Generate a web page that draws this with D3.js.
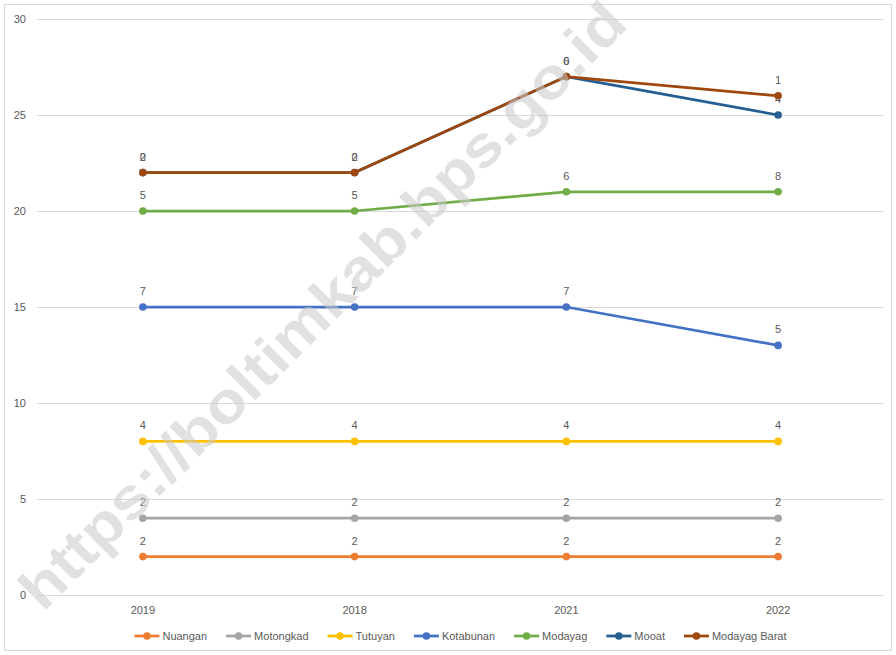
<!DOCTYPE html>
<html>
<head>
<meta charset="utf-8">
<script src="https://cdn.jsdelivr.net/npm/d3@7"></script>
<style>
  body { margin: 0; background: #fff; }
  svg { display: block; }
</style>
</head>
<body>
<script>
"use strict";

// categories and series (stacked line chart)
const years = ["2019", "2018", "2021", "2022"];
const seriesNames = ["Nuangan", "Motongkad", "Tutuyan", "Kotabunan", "Modayag", "Mooat", "Modayag Barat"];
const nuangan = [2, 2, 2, 2];
const motongkad = [2, 2, 2, 2];
const tutuyan = [4, 4, 4, 4];
const kotabunan = [7, 7, 7, 5];
const modayag = [5, 5, 6, 8];
const mooat = [2, 2, 6, 4];
const modayagBarat = [0, 0, 0, 1];
const yTicks = [0, 5, 10, 15, 20, 25, 30];
const colors = ["#ED7D31", "#A5A5A5", "#FFC000", "#4472C4", "#70AD47", "#255E91", "#9E480E"];

const width = 896, height = 655;
const margin = { top: 19, right: 12, bottom: 60, left: 37 };
const font = "'Liberation Sans Narrow', 'Liberation Sans', Arial, sans-serif";

const allValues = [nuangan, motongkad, tutuyan, kotabunan, modayag, mooat, modayagBarat];

// build rows for stacking
const rows = years.map((y, i) => {
  const r = { year: y };
  seriesNames.forEach((s, k) => (r[s] = allValues[k][i]));
  return r;
});
const stacked = d3.stack().keys(seriesNames)(rows);

const svg = d3.select("body").append("svg").attr("width", width).attr("height", height);

// outer border
svg.append("rect")
  .attr("x", 4.5).attr("y", 4.5)
  .attr("width", width - 9).attr("height", height - 9)
  .attr("fill", "#fff").attr("stroke", "#d9d9d9");

const x = d3.scaleBand(years, [margin.left, width - margin.right]);
const y = d3.scaleLinear([0, 30], [height - margin.bottom, margin.top]);
const cx = (d) => x(d) + x.bandwidth() / 2;

// gridlines
svg.append("g")
  .selectAll("line")
  .data(yTicks)
  .join("line")
  .attr("x1", margin.left).attr("x2", width - margin.right)
  .attr("y1", (d) => y(d) + 0.5).attr("y2", (d) => y(d) + 0.5)
  .attr("stroke", "#d9d9d9");

// y axis labels
svg.append("g")
  .attr("font-family", font).attr("font-size", 11).attr("fill", "#595959")
  .attr("text-anchor", "end")
  .selectAll("text")
  .data(yTicks)
  .join("text")
  .attr("x", 26).attr("y", (d) => y(d)).attr("dy", "0.35em")
  .text((d) => d);

// x axis labels
svg.append("g")
  .attr("font-family", font).attr("font-size", 11).attr("fill", "#595959")
  .attr("text-anchor", "middle")
  .selectAll("text")
  .data(years)
  .join("text")
  .attr("x", cx).attr("y", 614)
  .text((d) => d);

const line = d3.line().x((d) => cx(d.data.year)).y((d) => y(d[1]));

// each series: line, markers, labels
stacked.forEach((s, k) => {
  const g = svg.append("g");
  g.append("path")
    .datum(s)
    .attr("d", line)
    .attr("fill", "none")
    .attr("stroke", colors[k])
    .attr("stroke-width", 2.75)
    .attr("stroke-linejoin", "round");
  g.selectAll("circle")
    .data(s)
    .join("circle")
    .attr("cx", (d) => cx(d.data.year))
    .attr("cy", (d) => y(d[1]))
    .attr("r", 3.8)
    .attr("fill", colors[k]);
  g.selectAll("text")
    .data(s)
    .join("text")
    .attr("x", (d) => cx(d.data.year))
    .attr("y", (d) => y(d[1]) - 12)
    .attr("text-anchor", "middle")
    .attr("font-family", font).attr("font-size", 11).attr("fill", "#595959")
    .text((d) => d.data[s.key]);
});

// legend
const legend = svg.append("g")
  .attr("font-family", font).attr("font-size", 11).attr("fill", "#595959");
const items = legend.selectAll("g").data(seriesNames).join("g");
items.append("line")
  .attr("x1", 0).attr("x2", 25).attr("y1", 0).attr("y2", 0)
  .attr("stroke", (d, i) => colors[i]).attr("stroke-width", 2.75);
items.append("circle")
  .attr("cx", 12.5).attr("cy", 0).attr("r", 3.8)
  .attr("fill", (d, i) => colors[i]);
items.append("text")
  .attr("x", 28).attr("dy", "0.35em")
  .text((d) => d);
let pos = 0;
const offs = [];
items.each(function () {
  offs.push(pos);
  pos += 28 + this.querySelector("text").getComputedTextLength() + 19;
});
const total = pos - 19;
const startX = (margin.left + width - margin.right) / 2 - total / 2;
items.attr("transform", (d, i) => `translate(${startX + offs[i]},636)`);

// watermark
svg.append("text")
  .attr("transform", "translate(322,305) rotate(-45)")
  .attr("text-anchor", "middle")
  .attr("dy", "0.35em")
  .attr("font-family", "'Liberation Sans', Arial, sans-serif")
  .attr("font-weight", "bold")
  .attr("font-size", 58)
  .attr("textLength", 830)
  .attr("lengthAdjust", "spacingAndGlyphs")
  .attr("fill", "#c8c8c8")
  .attr("fill-opacity", 0.55)
  .text("https://boltimkab.bps.go.id");
</script>
</body>
</html>
